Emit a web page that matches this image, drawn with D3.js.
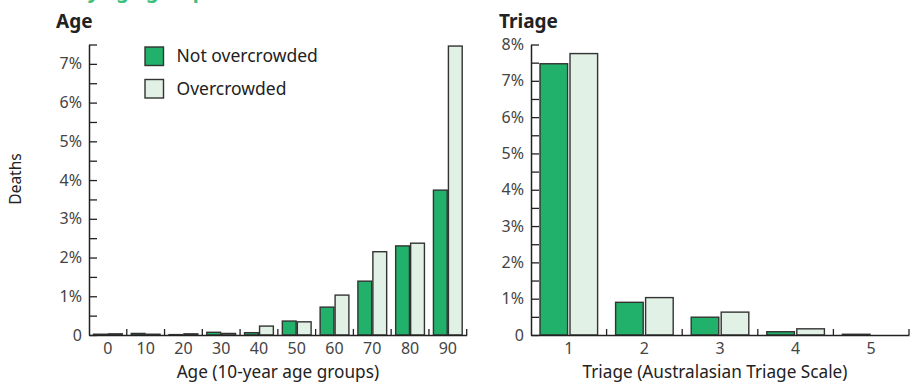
<!DOCTYPE html>
<html>
<head>
<meta charset="utf-8">
<script src="https://cdn.jsdelivr.net/npm/d3@7"></script>
<style>
  body { margin: 0; background: #fff; }
  svg { display: block; font-family: "Noto Sans", Lato, sans-serif; }
</style>
</head>
<body>
<div id="chart"></div>
<script>
// data
var ageGroups = ["0", "10", "20", "30", "40", "50", "60", "70", "80", "90"];
var ageNotOver = [0.02, 0.04, 0.01, 0.07, 0.06, 0.36, 0.72, 1.39, 2.30, 3.74];
var ageOver    = [0.03, 0.02, 0.03, 0.04, 0.23, 0.34, 1.03, 2.15, 2.37, 7.46];

var triageGroups = ["1", "2", "3", "4", "5"];
var triageNotOver = [7.47, 0.90, 0.49, 0.09, 0.02];
var triageOver    = [7.75, 1.03, 0.63, 0.17, 0.00];

var seriesNames = ["Not overcrowded", "Overcrowded"];
var fills = ["#21b16a", "#e1f1e5"];

var W = 915, H = 387;

var svg = d3.select("#chart").append("svg")
    .attr("width", W)
    .attr("height", H);

// header text, mostly above the frame like in the source
svg.append("text")
    .attr("x", 0)
    .attr("y", -2)
    .attr("fill", "#3cbf78")
    .attr("font-size", 20)
    .attr("font-weight", 700)
    .text("Deaths by age group");

function drawPanel(opt) {
    var g = svg.append("g");

    var x = d3.scaleBand()
        .domain(opt.cats)
        .range([opt.x0, opt.x1]);

    var inner = d3.scaleBand()
        .domain([0, 1])
        .range([0, x.bandwidth()])
        .paddingInner(0.08)
        .paddingOuter(0.3);

    var y = d3.scaleLinear()
        .domain([0, opt.yMax])
        .range([335, 44.5]);

    // title
    g.append("text")
        .attr("x", opt.titleX)
        .attr("y", 28)
        .attr("font-size", 19)
        .attr("font-weight", 700)
        .attr("fill", "#222")
        .text(opt.title);

    // bars
    var rows = opt.cats.map(function(c, i) {
        return { cat: c, vals: [opt.a[i], opt.b[i]] };
    });

    var groups = g.selectAll("g.grp")
        .data(rows)
        .enter()
        .append("g")
        .attr("class", "grp")
        .attr("transform", function(d) { return "translate(" + x(d.cat) + ",0)"; });

    groups.selectAll("rect")
        .data(function(d) { return d.vals; })
        .enter()
        .append("rect")
        .attr("x", function(d, i) { return inner(i); })
        .attr("y", function(d) { return y(d); })
        .attr("width", inner.bandwidth())
        .attr("height", function(d) { return y(0) - y(d); })
        .attr("fill", function(d, i) { return fills[i]; })
        .attr("stroke", "#333")
        .attr("stroke-width", 1.4);

    // y axis
    var yAxis = d3.axisLeft(y)
        .tickValues(d3.range(0, opt.yMax + 0.01, 0.5))
        .tickSizeInner(-8)
        .tickSizeOuter(0)
        .tickPadding(7)
        .tickFormat(function(d) {
            if (d === 0) return "0";
            return d % 1 === 0 ? d + "%" : "";
        });

    var ya = g.append("g")
        .attr("transform", "translate(" + opt.x0 + ",0)")
        .call(yAxis);
    ya.select(".domain").attr("stroke", "#222").attr("stroke-width", 1.5);
    ya.selectAll(".tick line").attr("stroke", "#222").attr("stroke-width", 1.3);
    ya.selectAll(".tick text")
        .attr("font-size", 16)
        .attr("fill", "#444")
        .attr("font-family", "'Noto Sans', sans-serif");

    // x axis
    var xAxis = d3.axisBottom(x).tickSize(0).tickPadding(8);
    var xa = g.append("g")
        .attr("transform", "translate(0,335)")
        .call(xAxis);
    xa.select(".domain").attr("stroke", "#222").attr("stroke-width", 1.5);
    xa.selectAll(".tick text")
        .attr("font-size", 16)
        .attr("fill", "#444")
        .attr("font-family", "'Noto Sans', sans-serif");

    // group boundary ticks
    g.selectAll("line.sep")
        .data(opt.cats)
        .enter()
        .append("line")
        .attr("class", "sep")
        .attr("x1", function(d) { return x(d) + x.bandwidth(); })
        .attr("x2", function(d) { return x(d) + x.bandwidth(); })
        .attr("y1", 335)
        .attr("y2", 329)
        .attr("stroke", "#222")
        .attr("stroke-width", 1.3);

    // x axis title
    g.append("text")
        .attr("x", (opt.x0 + opt.x1) / 2 + opt.xTitleShift)
        .attr("y", 378)
        .attr("text-anchor", "middle")
        .attr("font-size", 17.2)
        .attr("fill", "#222")
        .text(opt.xTitle);
}

drawPanel({
    cats: ageGroups, a: ageNotOver, b: ageOver,
    x0: 89, x1: 466.7, yMax: 7.5,
    title: "Age", titleX: 56,
    xTitle: "Age (10-year age groups)", xTitleShift: 0
});

drawPanel({
    cats: triageGroups, a: triageNotOver, b: triageOver,
    x0: 531, x1: 909, yMax: 8,
    title: "Triage", titleX: 499,
    xTitle: "Triage (Australasian Triage Scale)", xTitleShift: -5
});

// y axis title
svg.append("text")
    .attr("transform", "translate(21,179) rotate(-90)")
    .attr("text-anchor", "middle")
    .attr("font-size", 15.5)
    .attr("fill", "#222")
    .text("Deaths");

// legend
var legend = svg.selectAll("g.legend")
    .data(seriesNames)
    .enter()
    .append("g")
    .attr("class", "legend")
    .attr("transform", function(d, i) { return "translate(145," + (47 + i * 32.5) + ")"; });

legend.append("rect")
    .attr("width", 18.5)
    .attr("height", 18.5)
    .attr("fill", function(d, i) { return fills[i]; })
    .attr("stroke", "#333")
    .attr("stroke-width", 1.4);

legend.append("text")
    .attr("x", 31.5)
    .attr("y", 15)
    .attr("font-size", 17.5)
    .attr("fill", "#222")
    .text(function(d) { return d; });
</script>
</body>
</html>
